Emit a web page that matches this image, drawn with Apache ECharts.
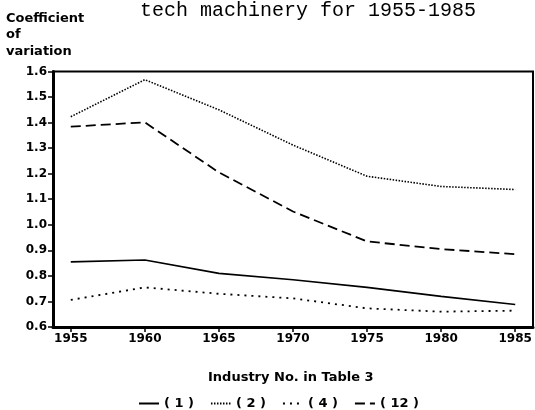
<!DOCTYPE html>
<html>
<head>
<meta charset="utf-8">
<script src="https://cdn.jsdelivr.net/npm/echarts@6/dist/echarts.min.js"></script>
<style>
  html, body { margin: 0; padding: 0; background: #fff; }
  #chart { width: 535px; height: 410px; }
</style>
</head>
<body>
<div id="chart"></div>
<script>
const years = [1955, 1960, 1965, 1970, 1975, 1980, 1985]
const ind1 = [0.855, 0.862, 0.81, 0.785, 0.755, 0.72, 0.688]
const ind2 = [1.423, 1.568, 1.45, 1.312, 1.19, 1.15, 1.138]
const ind4 = [0.706, 0.755, 0.73, 0.712, 0.673, 0.66, 0.664]
const ind12 = [1.384, 1.401, 1.205, 1.052, 0.935, 0.905, 0.885]

const font = 'DejaVu Sans'
const pts = arr => arr.map((v, i) => [years[i], v])

let chart = echarts.init(document.getElementById('chart'))

function line(name, data, type, width) {
  return {
    name,
    type: 'line',
    data: pts(data),
    showSymbol: false,
    symbol: 'none',
    lineStyle: { color: '#000', width: width, type: type },
    itemStyle: { color: '#000' }
  }
}

chart.setOption({
  animation: false,
  title: {
    text: 'tech machinery for 1955-1985',
    left: 135,
    top: -4,
    textStyle: { fontFamily: 'Liberation Mono', fontSize: 20, fontWeight: 'normal', color: '#000' }
  },
  graphic: [
    {
      type: 'text',
      left: 6,
      top: 10,
      style: {
        text: 'Coefficient\nof\nvariation',
        font: 'bold 13px DejaVu Sans',
        lineHeight: 16.5,
        fill: '#000'
      }
    },
    {
      type: 'text',
      left: 208,
      top: 371,
      style: {
        text: 'Industry No. in Table 3',
        font: 'bold 13px DejaVu Sans',
        fill: '#000'
      }
    }
  ],
  grid: { left: 53, right: 2, top: 71.5, bottom: 83, show: true, borderColor: '#000', borderWidth: 2 },
  legend: {
    top: 392,
    left: 133,
    itemGap: 16,
    itemWidth: 20,
    itemHeight: 10,
    itemStyle: { opacity: 0 },
    textStyle: { fontFamily: font, fontWeight: 'bold', fontSize: 13, color: '#000' },
    formatter: n => '( ' + n + ' )',
    data: ['1', '2', '4', '12']
  },
  xAxis: {
    type: 'value',
    min: 1953.8,
    max: 1986.2,
    splitLine: { show: false },
    axisLine: { lineStyle: { color: '#000', width: 3 } },
    axisTick: { customValues: years, length: 5, lineStyle: { color: '#000', width: 1.5 } },
    axisLabel: {
      customValues: years,
      color: '#000',
      fontFamily: font,
      fontWeight: 'bold',
      fontSize: 12,
      margin: 6,
      formatter: v => String(v)
    }
  },
  yAxis: {
    type: 'value',
    min: 0.6,
    max: 1.6,
    interval: 0.1,
    splitLine: { show: false },
    axisLine: { lineStyle: { color: '#000', width: 3 } },
    axisTick: { length: 5, lineStyle: { color: '#000', width: 1.5 } },
    axisLabel: {
      color: '#000',
      fontFamily: font,
      fontWeight: 'bold',
      fontSize: 12,
      margin: 6,
      formatter: v => v.toFixed(1)
    }
  },
  series: [
    line('1', ind1, 'solid', 1.6),
    line('2', ind2, [1.5, 1.5], 1.6),
    line('4', ind4, [2, 5], 1.8),
    line('12', ind12, [10, 5], 1.8)
  ]
})
</script>
</body>
</html>
